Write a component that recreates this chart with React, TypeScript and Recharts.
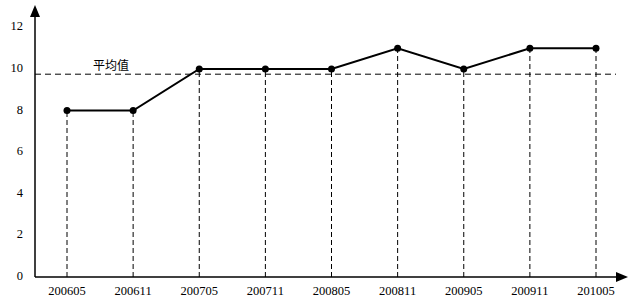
import { LineChart, Line, XAxis, YAxis, ReferenceLine } from 'recharts'

const months = ['200605', '200611', '200705', '200711', '200805', '200811', '200905', '200911', '201005']
const values = [8, 8, 10, 10, 10, 11, 10, 11, 11]
const yTicks = [0, 2, 4, 6, 8, 10, 12]
const average = 9.75
const averageLabel = '平均值'

const data = months.map((m, i) => ({ month: m, value: values[i] }))

const serif = '"Liberation Serif", "Times New Roman", serif'

// plain svg text so the serif face is actually used
const XTick = ({ x, y, payload }: any) => (
  <text x={x} y={y + 18} textAnchor="middle" fontSize={12.5} fill="#000" fontFamily={serif}>
    {payload.value}
  </text>
)
const YTick = ({ x, y, payload }: any) => (
  <text x={x} y={y + 3} textAnchor="end" fontSize={12.5} fill="#000" fontFamily={serif}>
    {payload.value}
  </text>
)

export default function App() {
  return (
    <div style={{ position: 'absolute', left: 0, top: 0, background: '#fff' }}>
      <LineChart width={630} height={298} data={data} margin={{ top: 17, right: 14, left: 0, bottom: 0 }}>
        <defs>
          <marker id="arrow" viewBox="0 0 12 10" refX="0" refY="5" markerWidth="12" markerHeight="10"
            markerUnits="userSpaceOnUse" orient="auto-start-reverse">
            <path d="M0,0 L12,5 L0,10 z" fill="#000" />
          </marker>
        </defs>
        <XAxis
          dataKey="month"
          height={21}
          padding={{ left: 32, right: 20 }}
          tickLine={false}
          tickMargin={0}
          tickSize={0}
          tick={<XTick />}
          axisLine={{ stroke: '#000', strokeWidth: 1.5, markerEnd: 'url(#arrow)' }}
          interval={0}
        />
        <YAxis
          width={35}
          domain={[0, 12.5]}
          ticks={yTicks}
          tickLine={false}
          tickSize={0}
          tickMargin={12}
          tick={<YTick />}
          axisLine={{ stroke: '#000', strokeWidth: 1.5, markerStart: 'url(#arrow)' }}
        />
        <ReferenceLine
          y={average}
          stroke="#000"
          strokeDasharray="6 4"
          label={(p: any) => (
            <text x={p.viewBox.x + 76} y={p.viewBox.y - 4} textAnchor="middle" fontSize={12}
              fill="#000" fontFamily='"Noto Sans CJK SC", sans-serif'>
              {averageLabel}
            </text>
          )}
        />
        {data.map(d => (
          <ReferenceLine
            key={d.month}
            segment={[{ x: d.month, y: 0 }, { x: d.month, y: d.value }]}
            stroke="#000"
            strokeDasharray="5 3"
          />
        ))}
        <Line
          type="linear"
          dataKey="value"
          stroke="#000"
          strokeWidth={2}
          dot={{ r: 3.5, fill: '#000', stroke: '#000', strokeWidth: 0 }}
          activeDot={false}
          isAnimationActive={false}
        />
      </LineChart>
    </div>
  )
}
